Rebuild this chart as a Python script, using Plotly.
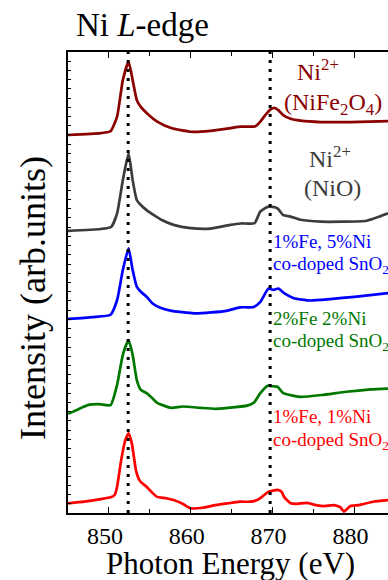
import plotly.graph_objects as go

# ---------------- data ----------------
energy_nife2o4 = [845, 849, 850.2, 851, 851.7, 852.4, 852.9, 853.4, 853.9, 854.9, 855.9, 857.6,
                  860, 862.4, 864.9, 866.1, 867.9, 868.5, 869.1, 869.8, 870.2, 870.7, 871.3,
                  872.2, 873.4, 875.9, 879.5, 884.1]
int_nife2o4 = [8.20, 8.24, 8.28, 8.60, 9.39, 9.79, 9.39, 8.96, 8.81, 8.63, 8.49, 8.35,
               8.27, 8.29, 8.35, 8.38, 8.39, 8.49, 8.63, 8.76, 8.79, 8.74, 8.63,
               8.55, 8.51, 8.48, 8.48, 8.50]

energy_nio = [845, 849, 850.3, 851, 851.7, 852.4, 852.9, 853.4, 853.9, 854.6, 855.5, 856.4,
              857.9, 860, 862.4, 864.8, 866.1, 867.8, 868.5, 869.4, 870.0, 870.6, 871.3,
              872.2, 873.4, 875.9, 878.4, 881.5, 884.1]
int_nio = [6.12, 6.16, 6.21, 6.50, 7.22, 7.80, 7.22, 6.79, 6.68, 6.57, 6.46, 6.36,
           6.25, 6.18, 6.17, 6.25, 6.28, 6.29, 6.54, 6.64, 6.64, 6.61, 6.46,
           6.43, 6.36, 6.32, 6.32, 6.34, 6.50]

energy_fe1ni5 = [845, 848, 850.2, 851, 851.7, 852.4, 852.9, 853.4, 853.9, 854.6, 855.3, 856.3,
                 857.5, 860.4, 862.5, 864.5, 866, 867.7, 868.5, 869.5, 870.1, 870.7, 871.4,
                 872.6, 874.6, 877, 880, 884.1]
int_fe1ni5 = [4.21, 4.25, 4.30, 4.62, 5.27, 5.74, 5.27, 4.91, 4.80, 4.69, 4.55, 4.45,
              4.39, 4.33, 4.35, 4.39, 4.46, 4.47, 4.58, 4.87, 4.84, 4.87, 4.77,
              4.66, 4.61, 4.64, 4.69, 4.77]

energy_fe2ni2 = [845, 846, 847.4, 848.8, 850.2, 851, 851.7, 852.4, 852.9, 853.4, 853.9, 854.6,
                 855.3, 855.9, 857.6, 859, 861.2, 863, 864.5, 866.9, 867.7, 868.5, 869.4,
                 870.0, 870.6, 871.3, 872.6, 873.4, 876, 879, 882, 884.1]
int_fe2ni2 = [2.15, 2.23, 2.34, 2.36, 2.34, 2.78, 3.43, 3.75, 3.43, 2.89, 2.67, 2.60,
              2.49, 2.39, 2.28, 2.31, 2.28, 2.26, 2.28, 2.33, 2.39, 2.60, 2.76,
              2.75, 2.74, 2.60, 2.54, 2.52, 2.56, 2.63, 2.68, 2.70]

energy_fe1ni1 = [845, 847, 849, 850.2, 850.7, 851, 851.5, 852, 852.4, 852.8, 853.3, 853.7,
                 854.1, 854.6, 855.3, 855.9, 857, 857.9, 859, 860, 861.6, 863, 864.5,
                 866, 867.3, 868.1, 868.7, 869.5, 870.6, 871.1, 871.4, 872.2, 873, 874.2,
                 875.3, 876.3, 877.5, 878.3, 878.7, 879.5, 880.5, 882.3, 884.1]
int_fe1ni1 = [0.21, 0.245, 0.30, 0.34, 0.39, 0.57, 1.15, 1.58, 1.73, 1.51, 0.93, 0.72,
              0.64, 0.57, 0.44, 0.35, 0.32, 0.28, 0.20, 0.10, 0.12, 0.17, 0.21,
              0.245, 0.245, 0.28, 0.35, 0.46, 0.50, 0.46, 0.35, 0.21, 0.20, 0.22,
              0.17, 0.15, 0.17, 0.12, 0.03, 0.15, 0.17, 0.245, 0.28]

edge_energies = [852.35, 869.7]
x_tick_values = [850, 860, 870, 880]
x_tick_labels = ["850", "860", "870", "880"]

# ---------------- figure ----------------
W, H = 388, 580
L, R, T, B = 68, 0, 52, 67
pw, ph = W - L - R, H - T - B


def px(x):
    return (x - L) / pw


def py(y):
    return (H - B - y) / ph


series = [
    (energy_nife2o4, int_nife2o4, "#8b0000", "NiFe2O4"),
    (energy_nio, int_nio, "#3c3c3c", "NiO"),
    (energy_fe1ni5, int_fe1ni5, "#0000ff", "1%Fe, 5%Ni"),
    (energy_fe2ni2, int_fe2ni2, "#007800", "2%Fe 2%Ni"),
    (energy_fe1ni1, int_fe1ni1, "#ff0000", "1%Fe, 1%Ni"),
]

fig = go.Figure()
for xs, ys, col, name in series:
    fig.add_trace(go.Scatter(x=xs, y=ys, mode="lines", name=name,
                             line=dict(color=col, width=2.7, shape="spline", smoothing=0.5),
                             showlegend=False, hoverinfo="skip"))

for e in edge_energies:
    fig.add_shape(type="line", x0=e, x1=e, xref="x", y0=0, y1=1, yref="paper",
                  line=dict(color="black", width=3, dash="3px,6px"))

FONT = "Times New Roman"

annots = [
    ("Ni<sup>2+</sup>", 295, 70, "#8b0000", 24),
    ("(NiFe<sub>2</sub>O<sub>4</sub>)", 282, 104, "#8b0000", 24),
    ("Ni<sup>2+</sup>", 307, 157, "#3c3c3c", 24),
    ("(NiO)", 302, 188, "#3c3c3c", 24),
    ("1%Fe, 5%Ni", 271, 241, "#0000ff", 19),
    ("co-doped SnO<sub>2</sub>", 271, 265, "#0000ff", 19),
    ("2%Fe 2%Ni", 271, 319, "#007800", 19),
    ("co-doped SnO<sub>2</sub>", 271, 342, "#007800", 19),
    ("1%Fe, 1%Ni", 271, 416, "#ff0000", 19),
    ("co-doped SnO<sub>2</sub>", 271, 441, "#ff0000", 19),
]
for txt, x, y, col, fs in annots:
    fig.add_annotation(text=txt, x=px(x), y=py(y), xref="paper", yref="paper",
                       xanchor="left", yanchor="middle", showarrow=False,
                       font=dict(family=FONT, size=fs, color=col))

# title and axis titles
fig.add_annotation(text="Ni <i>L</i>-edge", x=px(74), y=py(25), xref="paper", yref="paper",
                   xanchor="left", yanchor="middle", showarrow=False,
                   font=dict(family=FONT, size=33, color="black"))
fig.add_annotation(text="Photon Energy (eV)", x=px(230), y=py(563), xref="paper", yref="paper",
                   xanchor="center", yanchor="middle", showarrow=False,
                   font=dict(family=FONT, size=31, color="black"))
fig.add_annotation(text="Intensity (arb.units)", x=px(33), y=py(298), xref="paper", yref="paper",
                   xanchor="center", yanchor="middle", showarrow=False, textangle=-90,
                   font=dict(family=FONT, size=36, color="black"))

fig.update_layout(
    width=W, height=H,
    margin=dict(l=L, r=R, t=T, b=B),
    paper_bgcolor="white", plot_bgcolor="white",
    font=dict(family=FONT, color="black"),
    xaxis=dict(range=[845, 884.1], showgrid=False, zeroline=False,
               showline=True, linecolor="black", linewidth=1.5, mirror="ticks",
               ticks="inside", ticklen=6, tickwidth=1.2, tickcolor="black",
               tickvals=x_tick_values, ticktext=x_tick_labels,
               tickfont=dict(family=FONT, size=24, color="black"),
               ticklabelshift=-4,
               minor=dict(dtick=5, tick0=845, ticks="inside", ticklen=4, tickcolor="black", tickwidth=1.2)),
    yaxis=dict(range=[0, 10], showgrid=False, zeroline=False,
               showline=True, linecolor="black", linewidth=1.5, mirror=False,
               ticks="inside", ticklen=3, tickwidth=1.2, tickcolor="black",
               dtick=0.2, tick0=0, showticklabels=False),
)

fig.write_html("out.html", config={"displayModeBar": False},
               post_script="document.body.style.margin='0';document.body.style.padding='0';")
